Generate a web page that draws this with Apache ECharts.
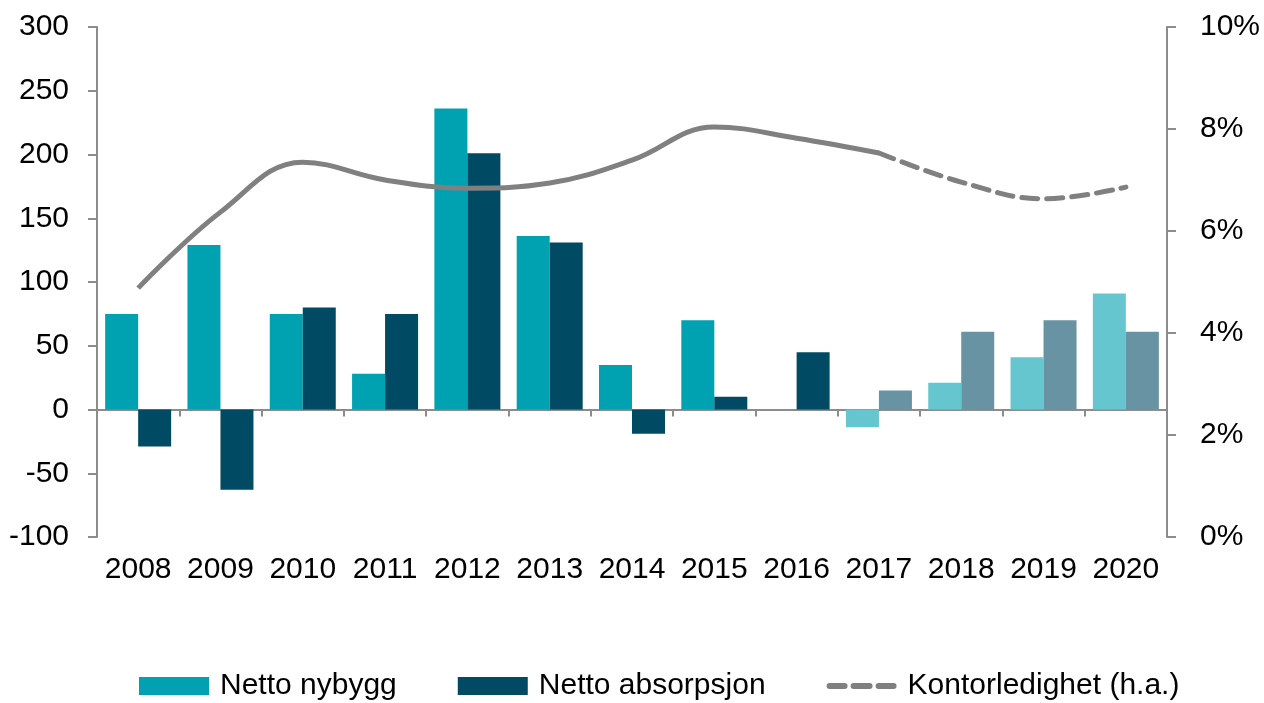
<!DOCTYPE html>
<html>
<head>
<meta charset="utf-8">
<script src="https://cdn.jsdelivr.net/npm/echarts@6/dist/echarts.min.js"></script>
<style>
  html, body { margin: 0; padding: 0; background: #fff; }
  #main { width: 1264px; height: 703px; }
</style>
</head>
<body>
<div id="main"></div>
<script>
// årstall
const years = ['2008', '2009', '2010', '2011', '2012', '2013', '2014', '2015', '2016', '2017', '2018', '2019', '2020'];
// tusen kvm
const nybygg = [75, 129, 75, 28, 236, 136, 35, 70, 0, -14, 21, 41, 91];
const absorpsjon = [-29, -63, 80, 75, 201, 131, -19, 10, 45, 15, 61, 70, 61];
// ledighet i prosent, heltrukket til 2017, stiplet etterpå
const ledighetFaktisk = [4.88, 6.37, 7.35, 7.0, 6.84, 6.94, 7.39, 8.04, 7.82, 7.53, null, null, null];
const ledighetPrognose = [null, null, null, null, null, null, null, null, null, 7.53, 6.96, 6.63, 6.86];
const leftTicks = [-100, 300, 50];
const rightTicks = [0, 10, 2];

const firstForecast = 9; // 2017 og utover er lysere
const colNy = '#00a1b0', colNyLight = '#65c6cf';
const colAbs = '#004b63', colAbsLight = '#6793a2';
const axisGray = '#8c8c8c';
const font = 'Liberation Sans, Arial, sans-serif';
// tre streker som legend-ikon, med usynlige hjørnepunkter så det ikke strekkes
const dashIcon = 'path://M0,0L0.01,0L0.01,0.01Z M0,18L0.01,18L0.01,17.99Z ' +
  'M3,6L18,6A3,3,0,0,1,18,12L3,12A3,3,0,0,1,3,6Z ' +
  'M27,6L43,6A3,3,0,0,1,43,12L27,12A3,3,0,0,1,27,6Z ' +
  'M52,6L67,6A3,3,0,0,1,67,12L52,12A3,3,0,0,1,52,6Z ' +
  'M70,0L69.99,0L69.99,0.01Z';

function colored(values, dark, light) {
  return values.map((v, i) => ({
    value: v,
    itemStyle: { color: i >= firstForecast ? light : dark }
  }));
}

const chart = echarts.init(document.getElementById('main'), null, { renderer: 'canvas' });

const option = {
  animation: false,
  textStyle: { fontFamily: font, color: '#000' },
  grid: { left: 97, right: 97, top: 27, bottom: 166, containLabel: false },
  legend: {
    left: 134,
    top: 666,
    itemWidth: 70,
    itemHeight: 18,
    itemGap: 61,
    textStyle: { fontSize: 30, color: '#000', fontFamily: font, padding: [0, 0, 0, 6] },
    data: [
      { name: 'Netto nybygg', icon: 'rect' },
      { name: 'Netto absorpsjon', icon: 'rect' },
      { name: 'Kontorledighet (h.a.)', icon: dashIcon, itemStyle: { color: '#808080' } }
    ]
  },
  xAxis: [{
    type: 'category',
    data: years,
    axisLine: { onZero: true, lineStyle: { color: axisGray, width: 2 } },
    axisTick: { show: true, length: 7, lineStyle: { color: axisGray, width: 2 } },
    axisLabel: { show: false },
    splitLine: { show: false }
  }, {
    type: 'category',
    data: years,
    position: 'bottom',
    axisLine: { show: false },
    axisTick: { show: false },
    axisLabel: { fontSize: 30, color: '#000', margin: 18, fontFamily: font, interval: 0 },
    splitLine: { show: false }
  }],
  yAxis: [{
    type: 'value',
    min: leftTicks[0],
    max: leftTicks[1],
    interval: leftTicks[2],
    axisLine: { show: true, lineStyle: { color: axisGray, width: 2 } },
    axisTick: { show: true, length: 9, lineStyle: { color: axisGray, width: 2 } },
    axisLabel: { fontSize: 30, color: '#000', margin: 28, fontFamily: font },
    splitLine: { show: false }
  }, {
    type: 'value',
    min: rightTicks[0],
    max: rightTicks[1],
    interval: rightTicks[2],
    position: 'right',
    axisLine: { show: true, lineStyle: { color: axisGray, width: 2 } },
    axisTick: { show: true, length: 9, lineStyle: { color: axisGray, width: 2 } },
    axisLabel: { fontSize: 30, color: '#000', margin: 33, formatter: '{value}%', fontFamily: font },
    splitLine: { show: false }
  }],
  series: [{
    name: 'Netto nybygg',
    type: 'bar',
    barWidth: 33,
    barGap: '0%',
    itemStyle: { color: colNy },
    data: colored(nybygg, colNy, colNyLight)
  }, {
    name: 'Netto absorpsjon',
    type: 'bar',
    barWidth: 33,
    barGap: '0%',
    itemStyle: { color: colAbs },
    data: colored(absorpsjon, colAbs, colAbsLight)
  }, {
    name: 'Kontorledighet',
    type: 'line',
    yAxisIndex: 1,
    smooth: 0.4,
    symbol: 'none',
    lineStyle: { color: '#808080', width: 5 },
    itemStyle: { color: '#808080' },
    data: ledighetFaktisk
  }, {
    name: 'Kontorledighet (h.a.)',
    type: 'line',
    yAxisIndex: 1,
    smooth: 0.4,
    symbol: 'none',
    lineStyle: { color: '#808080', width: 5, type: [16, 9], cap: 'round' },
    itemStyle: { color: '#808080' },
    data: ledighetPrognose
  }]
};

chart.setOption(option);
</script>
</body>
</html>
